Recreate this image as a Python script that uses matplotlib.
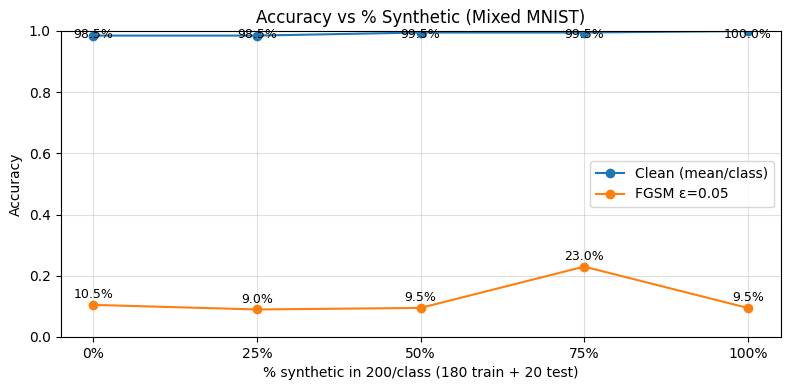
import matplotlib
matplotlib.use("Agg")
import matplotlib.pyplot as plt

categories = ["0%", "25%", "50%", "75%", "100%"]
clean = [0.985, 0.985, 0.995, 0.995, 1.0]
fgsm = [0.105, 0.09, 0.095, 0.23, 0.095]

fig, ax = plt.subplots(figsize=(7.9, 3.9), dpi=100)
x = list(range(len(categories)))
ax.plot(x, clean, marker="o", label="Clean (mean/class)")
ax.plot(x, fgsm, marker="o", label="FGSM ε=0.05")
for ys in (clean, fgsm):
    for xi, yi in zip(x, ys):
        ax.text(xi, min(yi + 0.012, 0.967), f"{yi*100:.1f}%",
                ha="center", va="bottom", fontsize=9)
ax.set_xticks(x)
ax.set_xticklabels(categories)
ax.set_ylim(0, 1)
ax.set_xlabel("% synthetic in 200/class (180 train + 20 test)")
ax.set_ylabel("Accuracy")
ax.set_title("Accuracy vs % Synthetic (Mixed MNIST)")
ax.grid(True, alpha=0.4)
ax.legend(loc="center right")
fig.subplots_adjust(left=60.5/790, right=780.5/790, top=1-31/390, bottom=1-337/390)
fig.savefig("out.png")
